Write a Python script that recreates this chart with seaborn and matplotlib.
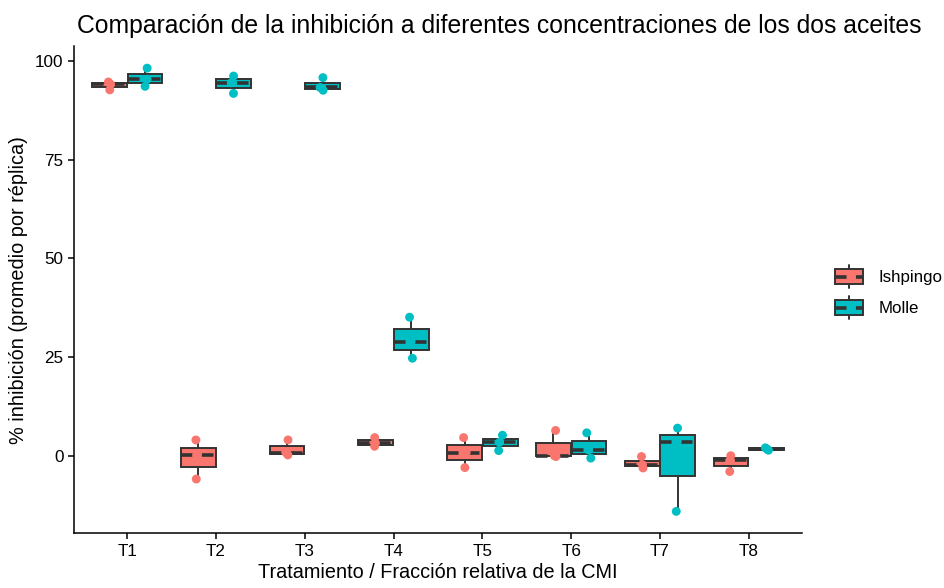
import numpy as np
import pandas as pd
import seaborn as sns
import matplotlib
matplotlib.use('Agg')
import matplotlib.pyplot as plt
from matplotlib.legend_handler import HandlerBase
from matplotlib.patches import Rectangle, Patch
from matplotlib.lines import Line2D

# data: % inhibicion promedio por replica
tratamientos = ['T1', 'T2', 'T3', 'T4', 'T5', 'T6', 'T7', 'T8']
aceites = ['Ishpingo', 'Molle']
ishpingo = [
    [92.7, 94.1, 94.7],
    [-5.9, 0.1, 4.0],
    [0.2, 0.8, 4.0],
    [2.4, 3.2, 4.6],
    [-3.0, 0.8, 4.6],
    [-0.2, 0.0, 6.4],
    [-3.1, -2.3, -0.2],
    [-4.0, -1.2, 0.0],
]
molle = [
    [93.6, 95.4, 98.2],
    [91.8, 94.5, 96.2],
    [92.6, 93.3, 95.8],
    [24.7, 28.9, 35.1],
    [1.3, 3.4, 5.2],
    [-0.6, 1.5, 5.8],
    [-14.1, 3.6, 7.0],
    [1.4, 1.7, 2.0],
]
colores = ['#F8766D', '#00BFC4']

rows = []
for t, vi, vm in zip(tratamientos, ishpingo, molle):
    for v in vi:
        rows.append((t, 'Ishpingo', v))
    for v in vm:
        rows.append((t, 'Molle', v))
df = pd.DataFrame(rows, columns=['Tratamiento', 'Aceite', 'Inhibicion'])

sns.set_theme(style='ticks')
plt.rcParams['font.family'] = ['Liberation Sans', 'DejaVu Sans']
plt.rcParams['text.color'] = 'black'
plt.rcParams['axes.labelcolor'] = 'black'

fig = plt.figure(figsize=(9.45, 5.88), dpi=100)
ax = fig.add_axes([0.0783, 0.0927, 0.7704, 0.829])

edge = '#333333'
dash = (0, (3.2, 2.6))
sns.boxplot(data=df, x='Tratamiento', y='Inhibicion', hue='Aceite',
            order=tratamientos, hue_order=aceites, palette=colores,
            width=0.8, gap=0.02, showcaps=False, showfliers=False,
            linecolor=edge, linewidth=1.4, saturation=1,
            medianprops=dict(linestyle=dash, linewidth=2.6, color=edge),
            whis=1.5, ax=ax, legend=False)

np.random.seed(3)
sns.stripplot(data=df, x='Tratamiento', y='Inhibicion', hue='Aceite',
              order=tratamientos, hue_order=aceites, palette=colores,
              dodge=True, jitter=0.06, size=6.4, linewidth=0,
              ax=ax, legend=False, zorder=5)

ax.set_xlim(-0.6, 7.6)
ax.set_ylim(-19.7, 103.8)
ax.set_yticks([0, 25, 50, 75, 100])
sns.despine(ax=ax)
for s in ['left', 'bottom']:
    ax.spines[s].set_linewidth(1.1)
    ax.spines[s].set_color('black')
ax.tick_params(axis='both', labelsize=12.3, length=4, width=1.1, colors='black')

ax.set_xlabel('Tratamiento / Fracción relativa de la CMI', fontsize=14.3, labelpad=3)
ax.set_ylabel('% inhibición (promedio por réplica)', fontsize=14.3, labelpad=5)
fig.text(0.081, 0.955, 'Comparación de la inhibición a diferentes concentraciones de los dos aceites',
         fontsize=17.8, ha='left', va='center')


class BoxKey(HandlerBase):
    def create_artists(self, legend, orig_handle, xdescent, ydescent,
                       width, height, fontsize, trans):
        x0, y0 = -xdescent, -ydescent
        bh = height * 0.65
        by = y0 + (height - bh) / 2
        xm = x0 + width / 2
        top = Line2D([xm, xm], [by + bh, y0 + height], color=edge, lw=1.4, transform=trans)
        bot = Line2D([xm, xm], [y0, by], color=edge, lw=1.4, transform=trans)
        box = Rectangle((x0, by), width, bh, facecolor=orig_handle.get_facecolor(),
                        edgecolor=edge, lw=1.4, transform=trans)
        med = Line2D([x0, x0 + width], [y0 + height / 2] * 2, color=edge, lw=2.6,
                     linestyle=dash, transform=trans)
        return [top, bot, box, med]


handles = [Patch(facecolor=c) for c in colores]
fig.legend(handles, aceites, handler_map={Patch: BoxKey()},
           loc='center left', bbox_to_anchor=(0.884, 0.503), frameon=False,
           borderpad=0, borderaxespad=0,
           fontsize=12.2, handlelength=1.65, handleheight=1.75, labelspacing=0.45,
           handletextpad=0.9)

fig.savefig('out.png', dpi=100)
